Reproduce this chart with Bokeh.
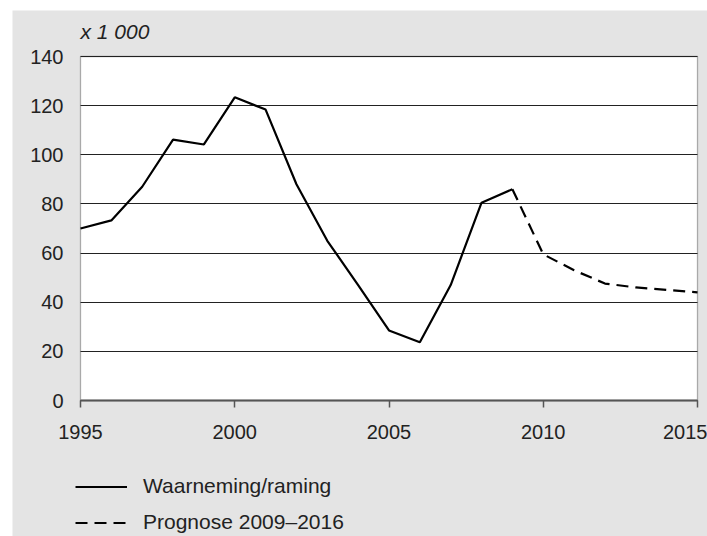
from bokeh.plotting import figure
from bokeh.models import Range1d, Legend, LegendItem, FixedTicker, Label, Spacer, BoxAnnotation, Grid
from bokeh.layouts import column, row
from bokeh.embed import file_html
from bokeh.resources import INLINE

years_obs = [1995, 1996, 1997, 1998, 1999, 2000, 2001, 2002, 2003, 2004, 2005, 2006, 2007, 2008, 2009]
values_obs = [70, 73.3, 87, 106.2, 104.2, 123.4, 118.4, 88, 65, 47, 28.5, 23.7, 47, 80.5, 86]
years_prog = [2009, 2010, 2011, 2012, 2013, 2014, 2015]
values_prog = [86, 59.5, 53, 47.6, 46, 45, 44]
x_ticks = [1995, 2000, 2005, 2010, 2015]
y_ticks = [0, 20, 40, 60, 80, 100, 120, 140]
label_obs = "Waarneming/raming"
label_prog = "Prognose 2009\u20132016"
unit_label = "x 1 000"

FONT = "Liberation Sans"
BG = "#e4e4e4"
TXT = "#222222"

# layout in pixels (figure-relative); the frame covers the whole figure
FIG_W, FIG_H = 695, 526
PLOT_L, PLOT_R = 68, 685       # left/right of the white plot area
PLOT_T, PLOT_B = 46, 390       # top/bottom of the white plot area
UNIT_Y = 21                    # centre of the "x 1 000" text
ux = (x_ticks[-1] - x_ticks[0]) / (PLOT_R - PLOT_L)
uy = (y_ticks[-1] - y_ticks[0]) / (PLOT_B - PLOT_T)
x_low = x_ticks[0] - PLOT_L * ux
x_high = x_ticks[-1] + (FIG_W - PLOT_R) * ux
y_low = y_ticks[0] - (FIG_H - PLOT_B) * uy
y_high = y_ticks[-1] + PLOT_T * uy

p = figure(width=FIG_W, height=FIG_H, output_backend="svg", toolbar_location=None,
           x_range=Range1d(x_low, x_high), y_range=Range1d(y_low, y_high),
           min_border=0,
           background_fill_color=BG, border_fill_color=BG, outline_line_color=None)

plot_area = BoxAnnotation(left=x_ticks[0], right=x_ticks[-1], bottom=y_ticks[0], top=y_ticks[-1],
                          fill_color="white", fill_alpha=1, line_color="black", line_width=1.3,
                          level="image", editable=False)
p.add_layout(plot_area)

unit = Label(x=x_ticks[0], y=y_ticks[-1] + (PLOT_T - UNIT_Y) * uy, text=unit_label,
             text_font=FONT, text_font_size="21px", text_font_style="italic",
             text_color=TXT, text_align="left", text_baseline="middle")
p.add_layout(unit)

r1 = p.line(years_obs, values_obs, line_color="black", line_width=2.2)
r2 = p.line(years_prog, values_prog, line_color="black", line_width=2.2, line_dash="12 7")

p.xgrid.grid_line_color = None
p.ygrid.ticker = FixedTicker(ticks=y_ticks)
p.ygrid.grid_line_color = TXT
p.ygrid.grid_line_width = 1.2
if "cross_bounds" in Grid.properties():
    p.ygrid.cross_bounds = (x_ticks[0], x_ticks[-1])

p.xaxis.fixed_location = y_ticks[0]
p.xaxis.bounds = (x_ticks[0], x_ticks[-1])
p.xaxis.ticker = FixedTicker(ticks=x_ticks)
p.xaxis.major_tick_in = 0
p.xaxis.major_tick_out = 7
p.xaxis.minor_tick_line_color = None
p.xaxis.axis_line_color = "#555555"
p.xaxis.axis_line_width = 2
p.xaxis.major_tick_line_color = "#555555"
p.xaxis.major_tick_line_width = 1.5
p.xaxis.major_label_text_font = FONT
p.xaxis.major_label_text_font_size = "20px"
p.xaxis.major_label_text_color = TXT
p.xaxis.major_label_standoff = 17

p.yaxis.fixed_location = x_ticks[0]
p.yaxis.bounds = (y_ticks[0], y_ticks[-1])
p.yaxis.ticker = FixedTicker(ticks=y_ticks)
p.yaxis.axis_line_color = None
p.yaxis.major_tick_line_color = None
p.yaxis.minor_tick_line_color = None
p.yaxis.major_label_text_font = FONT
p.yaxis.major_label_text_font_size = "20px"
p.yaxis.major_label_text_color = TXT
p.yaxis.major_label_standoff = 11

legend = Legend(items=[LegendItem(label=label_obs, renderers=[r1]),
                       LegendItem(label=label_prog, renderers=[r2])],
                location=(PLOT_L - 5, 2), orientation="vertical",
                background_fill_alpha=0,
                border_line_color=None, glyph_width=52, glyph_height=21,
                label_standoff=16, label_text_font=FONT, label_text_font_size="21px",
                label_text_color=TXT, spacing=12, padding=0, margin=0,
                label_height=21)
p.add_layout(legend, "center")

layout = column(Spacer(height=10),
                row(Spacer(width=12), p, spacing=0),
                spacing=0)

open("out.html", "w").write(file_html(layout, INLINE))
